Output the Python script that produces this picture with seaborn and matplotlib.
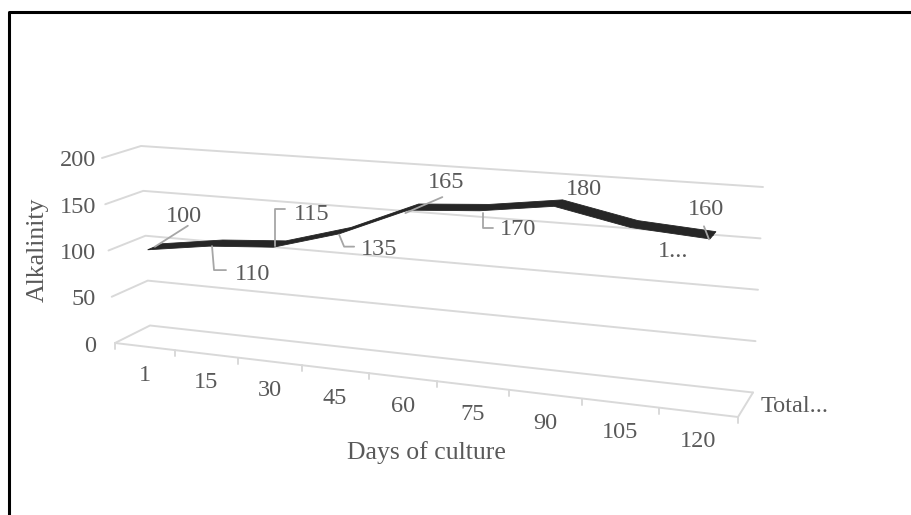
import numpy as np
import pandas as pd
import seaborn as sns
import matplotlib
matplotlib.use("Agg")
import matplotlib.pyplot as plt

days = ["1", "15", "30", "45", "60", "75", "90", "105", "120"]
alkalinity = [100, 110, 115, 135, 165, 170, 180, 165, 160]
point_labels = ["100", "110", "115", "135", "165", "170", "180", "1...", "160"]
value_ticks = [0, 50, 100, 150, 200]

GRID = "#d9d9d9"
TEXT = "#595959"
LEADER = "#a6a6a6"
SERIF = "Liberation Serif"
LABEL_SIZE = 17.5
TITLE_SIZE = 18.5

# Corners of the 3D box on the canvas, in pixels: (category end, value end)
BACK = {(0, 0): (150, 325.5), (0, 1): (141, 146), (1, 0): (753, 392.5), (1, 1): (763, 187)}
FRONT = {(0, 0): (115, 343), (0, 1): (102, 158), (1, 0): (738, 417), (1, 1): (750, 204)}
N_CAT = len(days)
FORESHORTEN = 1.165


def project(u, v, w):
    """Map category position u, value v and depth w (0 back, 1 front) to canvas pixels."""
    u = np.asarray(u, float)
    v = np.asarray(v, float)
    s = u / (u + FORESHORTEN * (N_CAT - u))
    t = v / 200.0

    def plane(c):
        a = np.array(c[(0, 0)], float)
        b = np.array(c[(1, 0)], float)
        d = np.array(c[(0, 1)], float)
        e = np.array(c[(1, 1)], float)
        sx, tx = s[..., None], t[..., None]
        return (1 - sx) * (1 - tx) * a + sx * (1 - tx) * b + (1 - sx) * tx * d + sx * tx * e

    xy = (1 - w) * plane(BACK) + w * plane(FRONT)
    return xy[..., 0], xy[..., 1]


sns.set_theme(style="white")
fig = plt.figure(figsize=(9.12, 5.15), dpi=100)
ax = fig.add_axes([0, 0, 1, 1])
ax.set_xlim(0, 912)
ax.set_ylim(515, 0)
ax.axis("off")


def stroke(xs, ys, color=GRID, lw=1.4, zorder=2):
    frame = pd.DataFrame({"x": np.atleast_1d(xs), "y": np.atleast_1d(ys)})
    sns.lineplot(data=frame, x="x", y="y", color=color, lw=lw, ax=ax, sort=False,
                 estimator=None, zorder=zorder, legend=False)


# Frame: only the top and left rules are present
stroke([9, 9, 912], [515, 12, 12], color="black", lw=2.2, zorder=1)

# Gridlines: back wall plus side wall for every value tick
for val in value_ticks:
    bx, by = project([0.0, N_CAT], [val, val], 0.0)
    fx, fy = project(0.0, val, 1.0)
    stroke([float(fx), bx[0], bx[1]], [float(fy), by[0], by[1]])

# Floor front edge, right edge and tick marks
fx, fy = project([0.0, N_CAT], [0, 0], 1.0)
stroke(fx, fy)
bx, by = project(float(N_CAT), 0, 0.0)
ex, ey = project(float(N_CAT), 0, 1.0)
stroke([float(bx), float(ex)], [float(by), float(ey)])
for i in range(N_CAT + 1):
    tx, ty = project(float(i), 0, 1.0)
    stroke([float(tx), float(tx)], [float(ty), float(ty) + 6])

# Series ribbon, running through the middle of the box depth
positions = np.arange(N_CAT) + 0.5
ux, uy = project(positions, np.array(alkalinity), 0.36)
lx, ly = project(positions, np.array(alkalinity), 0.76)
ax.fill(np.r_[ux, lx[::-1]], np.r_[uy, ly[::-1]], color="#262626", lw=0.6, zorder=3)
mx, my = project(positions, np.array(alkalinity), 0.56)
stroke(mx, my, color="#262626", lw=1.0, zorder=3)

# Data labels with their leader lines, offsets in pixels from the point on the ribbon
label_offsets = [(29, -30), (37, 31), (32, -30), (34, 19), (33, -25), (34, 22), (26, -14), (39, 27), (-7, -26)]
leader_paths = [
    [(0, 0), (33, -21)],
    [(-4, 3), (-2, 27), (10, 27)],
    [(-5, 2), (-5, -35), (5, -35)],
    [(-6, 4), (-1, 16), (9, 16)],
    [(-8, 6), (29, -10)],
    [(-1, 5), (-1, 20), (9, 20)],
    [],
    [],
    [(-9, -9), (-4, 4)],
]
for x0, y0, text, off, path in zip(mx, my, point_labels, label_offsets, leader_paths):
    ax.text(x0 + off[0], y0 + off[1], text, family=SERIF, fontsize=LABEL_SIZE, color=TEXT,
            ha="center", va="center", zorder=5)
    if path:
        stroke([x0 + p[0] for p in path], [y0 + p[1] for p in path], color=LEADER, lw=1.3, zorder=4)

# Value axis labels beside the side wall
for val in value_ticks:
    x0, y0 = project(0.0, val, 1.0)
    ax.text(96, float(y0) + 3, str(val), family=SERIF, fontsize=LABEL_SIZE, color=TEXT,
            ha="right", va="center")

# Category labels under the floor
for i, day in enumerate(days):
    x0, y0 = project(i + 0.5, 0, 1.0)
    ax.text(float(x0), float(y0) + 29, day, family=SERIF, fontsize=LABEL_SIZE, color=TEXT,
            ha="center", va="center")

ax.text(38, 250, "Alkalinity", family=SERIF, fontsize=TITLE_SIZE, color=TEXT, rotation=90, ha="center", va="center")
ax.text(426, 453, "Days of culture", family=SERIF, fontsize=TITLE_SIZE, color=TEXT, ha="center", va="center")
ax.text(761, 406, "Total...", family=SERIF, fontsize=LABEL_SIZE, color=TEXT, ha="left", va="center")

fig.savefig("out.png", dpi=100)
